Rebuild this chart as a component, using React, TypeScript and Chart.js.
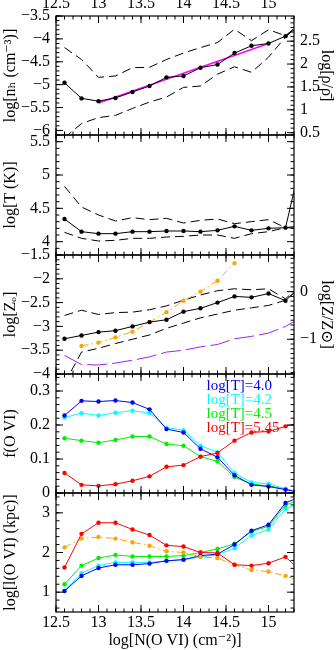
import React, { useEffect, useRef } from "react";
import { Chart, registerables } from "chart.js";

Chart.register(...registerables);

const FONT_FAMILY = '"Liberation Serif", "DejaVu Serif", "Times New Roman", serif';
const W = 336;
const H = 650;
const PLOT_LEFT = 56;
const PLOT_RIGHT = 294;

// ---------- x axis ----------
const X_MIN = 12.5;
const X_MAX = 15.3;
const xTickLabels = [12.5, 13, 13.5, 14, 14.5, 15];
const xTitle = "log[N(O VI) (cm⁻²)]";
const NOVI = [12.6, 12.8, 13.0, 13.2, 13.4, 13.6, 13.8, 14.0, 14.2, 14.4, 14.6, 14.8, 15.0, 15.2, 15.4];

// ---------- panel 1: density ----------
const nhTicks = [-6, -5.5, -5, -4.5, -4, -3.5];
const rhoTicks = [0.5, 1, 1.5, 2, 2.5];
const nhMedian = [-4.96, -5.30, -5.36, -5.29, -5.16, -5.03, -4.84, -4.81, -4.63, -4.56, -4.31, -4.15, -4.10, -3.94, -3.66];
const nhUpper = [-4.19, -4.45, -4.84, -4.81, -4.63, -4.62, -4.45, -4.31, -4.19, -4.08, -3.79, -4.04, -3.80, -3.93, -3.62];
const nhLower = [-6.16, -5.85, -5.72, -5.67, -5.52, -5.38, -5.27, -5.06, -5.03, -4.77, -4.61, -4.73, -4.40, -3.96, -3.62];
const nhFitX = [13.0, 15.0];
const nhFit = [-5.40, -4.10];

// ---------- panel 2: temperature ----------
const tTicks = [4, 4.5, 5, 5.5];
const tMedian = [4.34, 4.15, 4.12, 4.12, 4.15, 4.15, 4.16, 4.16, 4.15, 4.17, 4.23, 4.17, 4.20, 4.21, 5.30];
const tUpper = [4.83, 4.52, 4.40, 4.31, 4.36, 4.33, 4.35, 4.28, 4.32, 4.34, 4.27, 4.30, 4.33, 4.21, 4.20];
const tLower = [4.14, 4.05, 4.01, 4.02, 4.05, 4.05, 4.07, 4.08, 4.10, 4.10, 4.05, 4.12, 4.15, 4.21, 4.24];

// ---------- panel 3: metallicity ----------
const zTicks = [-4, -3.5, -3, -2.5, -2, -1.5];
const zSolarTicks = [-1, 0];
const zMedian = [-3.26, -3.19, -3.12, -3.09, -3.00, -2.91, -2.86, -2.69, -2.62, -2.50, -2.37, -2.39, -2.31, -2.46, -2.12];
const zUpper = [-2.77, -2.66, -2.75, -2.71, -2.70, -2.65, -2.57, -2.45, -2.34, -2.25, -2.21, -2.23, -2.21, -2.42, -2.10];
const zLower = [-4.20, -3.54, -3.46, -3.36, -3.27, -3.18, -3.04, -2.93, -2.82, -2.74, -2.66, -2.61, -2.56, -2.45, -2.15];
const zHotX = [12.8, 13.0, 13.2, 13.4, 13.6, 13.8, 14.0, 14.2, 14.4, 14.6];
const zHot = [-3.41, -3.34, -3.23, -3.11, -2.91, -2.70, -2.46, -2.27, -2.04, -1.67];
const zPurple = [-3.61, -3.80, -3.81, -3.77, -3.71, -3.64, -3.54, -3.50, -3.43, -3.38, -3.26, -3.21, -3.14, -3.00, -2.80];

// ---------- panel 4: O VI fraction ----------
const fTicks = [0, 0.1, 0.2, 0.3];
const fT40 = [0.228, 0.271, 0.269, 0.272, 0.266, 0.246, 0.188, 0.178, 0.130, 0.105, 0.052, 0.024, 0.019, 0.010, 0.0];
const fT42 = [0.222, 0.235, 0.228, 0.236, 0.242, 0.235, 0.192, 0.185, 0.139, 0.120, 0.059, 0.031, 0.027, 0.012, 0.0];
const fT45 = [0.161, 0.154, 0.148, 0.156, 0.166, 0.166, 0.144, 0.139, 0.107, 0.093, 0.047, 0.026, 0.021, 0.012, 0.0];
const fT545 = [0.059, 0.024, 0.021, 0.026, 0.036, 0.049, 0.077, 0.082, 0.107, 0.118, 0.154, 0.178, 0.181, 0.196, 0.209];
const legendLabels = ["log[T]=4.0", "log[T]=4.2", "log[T]=4.5", "log[T]=5.45"];

// ---------- panel 5: path length ----------
const lTicks = [1, 2, 3];
const lT40 = [1.03, 1.41, 1.61, 1.69, 1.69, 1.72, 1.79, 1.82, 1.92, 1.96, 2.20, 2.55, 2.70, 3.25, 3.43];
const lT42 = [1.03, 1.48, 1.67, 1.75, 1.75, 1.75, 1.79, 1.82, 1.89, 1.94, 2.11, 2.43, 2.58, 3.10, 3.24];
const lT45 = [1.20, 1.67, 1.86, 1.94, 1.90, 1.90, 1.90, 1.92, 2.00, 2.09, 2.22, 2.53, 2.66, 3.19, 3.37];
const lT545 = [1.62, 2.47, 2.75, 2.75, 2.58, 2.44, 2.18, 2.15, 2.00, 1.99, 1.69, 1.67, 1.73, 1.89, 1.49];
const lHot = [2.13, 2.35, 2.39, 2.35, 2.26, 2.17, 2.03, 2.00, 1.89, 1.86, 1.69, 1.56, 1.52, 1.41, 1.27];

// ---------- styles ----------
const BLACK = "#000000";
const BLUE = "#0000ff";
const CYAN = "#00ffff";
const GREEN = "#00ee00";
const RED = "#ff0000";
const ORANGE = "#ffa500";
const PURPLE = "#a020f0";
const MAGENTA = "#ff00ff";
const DASH = [9, 5];
const LONGDASH = [20, 5];
const DASHDOT = [7, 3, 1.5, 3];

type Series = { xs: number[]; ys: number[]; color: string; dash?: number[]; width?: number; dots?: boolean };
type RightAxis = { offset: number; ticks: number[]; minorStep: number; title: string };
type PanelSpec = {
  top: number;
  bottom: number;
  yMin: number;
  yMax: number;
  yTicks: number[];
  yMinorStep: number;
  yTitle: string;
  right?: RightAxis;
  xAxis: "top" | "bottom" | "none";
  series: Series[];
  legend?: { labels: string[]; colors: string[] };
};

const fmt = (v: number) => {
  const r = Math.round(v * 1000) / 1000;
  return (r < 0 ? "−" : "") + String(Math.abs(r));
};

const stepsBetween = (min: number, max: number, step: number) => {
  const out: number[] = [];
  const n0 = Math.ceil(min / step - 1e-6);
  const n1 = Math.floor(max / step + 1e-6);
  for (let n = n0; n <= n1; n++) out.push(+(n * step).toFixed(6));
  return out;
};

const PANELS: PanelSpec[] = [
  {
    top: 16, bottom: 135, yMin: -6.1, yMax: -3.5, yTicks: nhTicks, yMinorStep: 0.1,
    yTitle: "log[nₕ (cm⁻³)]", xAxis: "top",
    right: { offset: 6.55, ticks: rhoTicks, minorStep: 0.1, title: "log[ρ/ρ̄]" },
    series: [
      { xs: NOVI, ys: nhMedian, color: BLACK, dots: true },
      { xs: nhFitX, ys: nhFit, color: MAGENTA, width: 1.5 },
      { xs: NOVI, ys: nhUpper, color: BLACK, dash: DASH },
      { xs: NOVI, ys: nhLower, color: BLACK, dash: DASH },
    ],
  },
  {
    top: 135, bottom: 255, yMin: 3.8, yMax: 5.6, yTicks: tTicks, yMinorStep: 0.1,
    yTitle: "log[T (K)]", xAxis: "none",
    series: [
      { xs: NOVI, ys: tMedian, color: BLACK, dots: true },
      { xs: NOVI, ys: tUpper, color: BLACK, dash: DASH },
      { xs: NOVI, ys: tLower, color: BLACK, dash: DASH },
    ],
  },
  {
    top: 255, bottom: 374, yMin: -4, yMax: -1.5, yTicks: zTicks, yMinorStep: 0.1,
    yTitle: "log[Zₒ]", xAxis: "none",
    right: { offset: 2.27, ticks: zSolarTicks, minorStep: 0.1, title: "log[Z/Z⊙]" },
    series: [
      { xs: NOVI, ys: zMedian, color: BLACK, dots: true },
      { xs: zHotX, ys: zHot, color: ORANGE, dash: DASHDOT, dots: true },
      { xs: NOVI, ys: zUpper, color: BLACK, dash: DASH },
      { xs: NOVI, ys: zLower, color: BLACK, dash: DASH },
      { xs: NOVI, ys: zPurple, color: PURPLE, dash: LONGDASH },
    ],
  },
  {
    top: 374, bottom: 493, yMin: 0, yMax: 0.35, yTicks: fTicks, yMinorStep: 0.02,
    yTitle: "f(O VI)", xAxis: "none",
    legend: { labels: legendLabels, colors: [BLUE, CYAN, GREEN, RED] },
    series: [
      { xs: NOVI, ys: fT545, color: RED, dots: true },
      { xs: NOVI, ys: fT40, color: BLUE, dots: true },
      { xs: NOVI, ys: fT42, color: CYAN, dots: true },
      { xs: NOVI, ys: fT45, color: GREEN, dots: true },
    ],
  },
  {
    top: 493, bottom: 612, yMin: 0.5, yMax: 3.5, yTicks: lTicks, yMinorStep: 0.2,
    yTitle: "log[l(O VI) (kpc)]", xAxis: "bottom",
    series: [
      { xs: NOVI, ys: lT545, color: RED, dots: true },
      { xs: NOVI, ys: lHot, color: ORANGE, dash: DASHDOT, dots: true },
      { xs: NOVI, ys: lT40, color: BLUE, dots: true },
      { xs: NOVI, ys: lT45, color: GREEN, dots: true },
      { xs: NOVI, ys: lT42, color: CYAN, dots: true },
    ],
  },
];

function makeFramePlugin(spec: PanelSpec) {
  const xMinor = stepsBetween(X_MIN, X_MAX, 0.1);
  const yMinor = stepsBetween(spec.yMin, spec.yMax, spec.yMinorStep);
  const r = spec.right;
  const rMinor = r ? stepsBetween(spec.yMin + r.offset, spec.yMax + r.offset, r.minorStep) : [];
  return {
    id: "frameTicks",
    afterDraw(chart: any) {
      const { ctx, chartArea } = chart;
      const { left, right, top, bottom } = chartArea;
      const xs = chart.scales.x;
      const yl = chart.scales.y;
      const yr = chart.scales.y2;
      ctx.save();
      ctx.strokeStyle = "#000";
      ctx.lineWidth = 1;
      ctx.beginPath();
      const seg = (x1: number, y1: number, x2: number, y2: number) => {
        ctx.moveTo(x1, y1);
        ctx.lineTo(x2, y2);
      };
      const groups: [number[], number][] = [[xTickLabels, 7], [xMinor, 3.5]];
      for (const [vals, len] of groups) {
        for (const v of vals) {
          const p = xs.getPixelForValue(v);
          seg(p, bottom, p, bottom - len);
          seg(p, top, p, top + len);
        }
      }
      const ygroups: [number[], number][] = [[spec.yTicks, 7], [yMinor, 3.5]];
      for (const [vals, len] of ygroups) {
        for (const v of vals) {
          const p = yl.getPixelForValue(v);
          seg(left, p, left + len, p);
          if (!yr) seg(right, p, right - len, p);
        }
      }
      if (yr && r) {
        const rgroups: [number[], number][] = [[r.ticks, 7], [rMinor, 3.5]];
        for (const [vals, len] of rgroups) {
          for (const v of vals) {
            const p = yr.getPixelForValue(v);
            seg(right, p, right - len, p);
          }
        }
      }
      ctx.stroke();
      ctx.lineWidth = 1.2;
      ctx.strokeRect(left, top, right - left, bottom - top);
      ctx.restore();
    },
  };
}

const legendPlacer = {
  id: "legendPlacer",
  afterLayout(chart: any) {
    const lg = chart.legend;
    if (!lg || !lg.options || !lg.options.display) return;
    const ca = chart.chartArea;
    const w = lg.width;
    const h = lg.height;
    lg.left = ca.right - 94;
    lg.top = ca.top + 5.5;
    lg.right = lg.left + w;
    lg.bottom = lg.top + h;
  },
};

function buildChart(canvas: HTMLCanvasElement, spec: PanelSpec) {
  const font = { family: FONT_FAMILY, size: 16 };
  const xAxisH = spec.xAxis === "top" ? spec.top : spec.xAxis === "bottom" ? H - spec.bottom : 0;
  const padding = {
    left: 0,
    right: spec.right ? 0 : W - PLOT_RIGHT,
    top: spec.xAxis === "top" ? 0 : spec.top,
    bottom: spec.xAxis === "bottom" ? 0 : H - spec.bottom,
  };
  const scales: any = {
    x: {
      type: "linear",
      min: X_MIN,
      max: X_MAX,
      position: spec.xAxis === "top" ? "top" : "bottom",
      display: spec.xAxis !== "none",
      grid: { display: false, drawTicks: false },
      border: { display: false },
      ticks: {
        font, color: "#000", padding: spec.xAxis === "top" ? 3 : 1.5,
        autoSkip: false, maxRotation: 0, minRotation: 0,
        callback: (v: any) => fmt(Number(v)),
      },
      afterBuildTicks: (s: any) => { s.ticks = xTickLabels.map((v) => ({ value: v })); },
      afterFit: (s: any) => { s.height = xAxisH; s.paddingLeft = 0; s.paddingRight = 0; },
      title: spec.xAxis === "bottom"
        ? { display: true, text: xTitle, font, color: "#000", padding: { top: 0, bottom: 0 } }
        : { display: false },
    },
    y: {
      type: "linear",
      min: spec.yMin,
      max: spec.yMax,
      position: "left",
      grid: { display: false, drawTicks: false },
      border: { display: false },
      ticks: { font, color: "#000", padding: 6, autoSkip: false, callback: (v: any) => fmt(Number(v)) },
      afterBuildTicks: (s: any) => { s.ticks = spec.yTicks.map((v) => ({ value: v })); },
      afterFit: (s: any) => { s.width = PLOT_LEFT; s.paddingTop = 0; s.paddingBottom = 0; },
      title: { display: true, text: spec.yTitle, font, color: "#000", padding: { top: 1, bottom: 0 } },
    },
  };
  if (spec.right) {
    const r = spec.right;
    scales.y2 = {
      type: "linear",
      min: spec.yMin + r.offset,
      max: spec.yMax + r.offset,
      position: "right",
      grid: { display: false, drawTicks: false },
      border: { display: false },
      ticks: { font, color: "#000", padding: 6, autoSkip: false, callback: (v: any) => fmt(Number(v)) },
      afterBuildTicks: (s: any) => { s.ticks = r.ticks.map((v) => ({ value: v })); },
      afterFit: (s: any) => { s.width = W - PLOT_RIGHT; s.paddingTop = 0; s.paddingBottom = 0; },
      title: { display: true, text: r.title, font, color: "#000", padding: { top: 0, bottom: 0 } },
    };
  }

  const datasets = spec.series.map((s) => ({
    type: "line" as const,
    data: s.xs.map((x, i) => ({ x, y: s.ys[i] })),
    borderColor: s.color,
    backgroundColor: s.color,
    borderWidth: s.width ?? 1,
    borderDash: s.dash ?? [],
    pointRadius: (c: any) => (s.dots && c.raw && c.raw.x <= X_MAX ? 2.2 : 0),
    pointBorderWidth: 0,
    pointBackgroundColor: s.color,
    tension: 0,
    fill: false,
    clip: 0,
  }));

  const lg = spec.legend;
  const legendOpts = lg
    ? {
        display: true,
        position: "chartArea",
        align: "start",
        labels: {
          boxWidth: 0,
          boxHeight: 0,
          padding: -1,
          font: { family: FONT_FAMILY, size: 15 },
          generateLabels: () =>
            lg.labels.map((t, i) => ({
              text: t,
              fillStyle: "rgba(0,0,0,0)",
              strokeStyle: "rgba(0,0,0,0)",
              lineWidth: 0,
              fontColor: lg.colors[i],
              hidden: false,
              textAlign: "left",
              datasetIndex: i,
            })),
        },
      }
    : { display: false };

  return new Chart(canvas, {
    type: "line",
    data: { datasets: datasets as any },
    options: {
      responsive: false,
      animation: false,
      devicePixelRatio: 1,
      events: [],
      layout: { padding },
      scales,
      plugins: { legend: legendOpts as any, tooltip: { enabled: false }, title: { display: false } },
    } as any,
    plugins: [makeFramePlugin(spec) as any, legendPlacer as any],
  });
}

export default function App() {
  const refs = useRef<(HTMLCanvasElement | null)[]>([]);
  useEffect(() => {
    const charts = PANELS.map((spec, i) => buildChart(refs.current[i] as HTMLCanvasElement, spec));
    return () => charts.forEach((c) => c.destroy());
  }, []);
  return (
    <div style={{ position: "fixed", left: 0, top: 0, width: W, height: H, background: "#fff", overflow: "hidden" }}>
      {PANELS.map((_, i) => (
        <canvas
          key={i}
          ref={(el) => { refs.current[i] = el; }}
          width={W}
          height={H}
          style={{ position: "absolute", left: 0, top: 0, width: W, height: H }}
        />
      ))}
    </div>
  );
}
